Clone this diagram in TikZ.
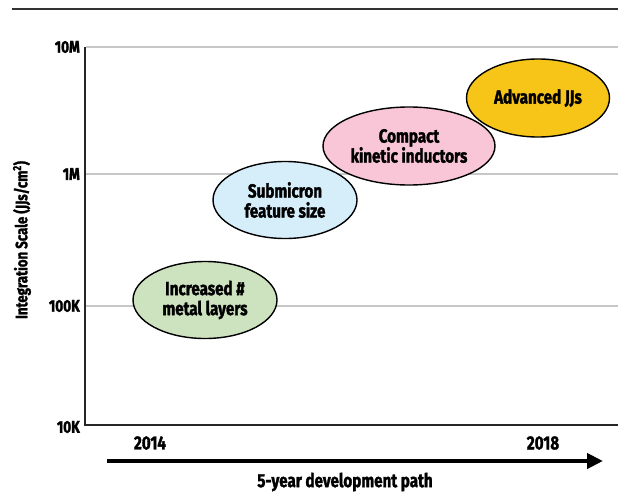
\documentclass[tikz,border=0pt]{standalone}
\usepackage{fontspec}
\setmainfont{Fira Sans}[FakeStretch=0.8, BoldFeatures={FakeBold=1.6}]
\usepackage{xcolor}
\usetikzlibrary{arrows.meta,shapes.geometric}

\definecolor{leafgreen}{HTML}{CDE3C0}
\definecolor{skyblue}{HTML}{D6EDFA}
\definecolor{rosepink}{HTML}{F8C6D7}
\definecolor{goldyellow}{HTML}{F6C518}

\begin{document}
\begin{tikzpicture}[
  x=1pt, y=-1pt,
  font=\bfseries\fontsize{17}{19}\selectfont,
  blob/.style={
     ellipse, draw=black, line width=1.4pt,
     inner sep=0pt, align=center,
     minimum width=144pt, minimum height=77pt,
     font=\bfseries\fontsize{19}{20}\selectfont},
  grid/.style={draw=black!22, line width=1.3pt},
  axis/.style={draw=black!85, line width=1.3pt},
  arrow/.style={-{Triangle[length=16pt,width=15pt]}, line width=4pt}]
\useasboundingbox (0,0) rectangle (618,495);
% top rule
\draw[draw=black!80, line width=2.2pt] (12,9) -- (618,9);
% grid lines and scale labels
\foreach \yy/\lab/\nm in {47/10M/tenM,174/1M/oneM,306/100K/hundredK}{
  \draw[grid] (86,\yy) -- (618,\yy);
  \node[anchor=east, inner sep=1pt] (\nm) at (81,\yy) {\lab};
}
\node[anchor=east, inner sep=1pt] (tenK) at (81,427) {10K};
% axes
\draw[axis] (85,47) -- (85,425) -- (618,425);
\node[rotate=90, font=\bfseries\fontsize{16.5}{18}\selectfont] (ylab) at (22,240) {Integration Scale (JJs/cm\textsuperscript{2})};
% roadmap steps
\node[blob, fill=leafgreen] (metal) at (205,300) {Increased \#\\metal layers};
\node[blob, fill=skyblue] (submicron) at (285,200) {Submicron\\feature size};
\node[blob, fill=rosepink, minimum width=172pt, minimum height=78pt] (kinetic) at (409,146) {Compact\\kinetic inductors};
\node[blob, fill=goldyellow, minimum width=143pt, minimum height=78pt] (advjj) at (538,98) {Advanced JJs};
% time line
\node[font=\bfseries\fontsize{19}{20}\selectfont] (start) at (150,443) {2014};
\node[font=\bfseries\fontsize{19}{20}\selectfont] (finish) at (543,443) {2018};
\coordinate (tfrom) at (107,461);
\coordinate (tto) at (603,461);
\draw[arrow] (tfrom) -- (tto);
\node[font=\bfseries\fontsize{19}{20}\selectfont] (path) at (345,482) {5-year development path};
\end{tikzpicture}
\end{document}
